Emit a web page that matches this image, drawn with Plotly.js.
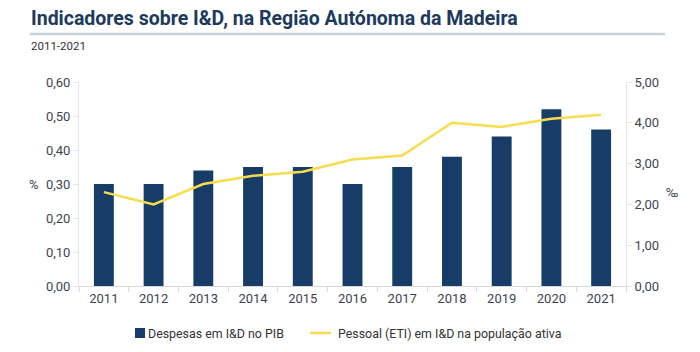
<!DOCTYPE html>
<html>
<head>
<meta charset="utf-8">
<script src="https://cdn.plot.ly/plotly-3.0.1.min.js"></script>
<style>
html,body{margin:0;padding:0;background:#fff;}
#chart{width:700px;height:352px;}
</style>
</head>
<body>
<div id="chart"></div>
<script>
const years = ['2011','2012','2013','2014','2015','2016','2017','2018','2019','2020','2021'];
const despesas = [0.30,0.30,0.34,0.35,0.35,0.30,0.35,0.38,0.44,0.52,0.46];
const pessoal = [2.3,2.0,2.5,2.7,2.8,3.1,3.2,4.0,3.9,4.1,4.2];
const leftTicks = [0,0.1,0.2,0.3,0.4,0.5,0.6];
const leftLabels = ['0,00','0,10','0,20','0,30','0,40','0,50','0,60'];
const rightTicks = [0,1,2,3,4,5];
const rightLabels = ['0,00','1,00','2,00','3,00','4,00','5,00'];
const seriesNames = ['Despesas em I&D no PIB', 'Pessoal (ETI) em I&D na população ativa'];

const barColor = '#173c68', lineColor = '#f7dc4e';
const font = 'Roboto, "Noto Sans", sans-serif';
const traces = [
  {type:'bar', x:years, y:despesas, name:seriesNames[0],
   marker:{color:barColor}, width:0.4, yaxis:'y'},
  {type:'scatter', mode:'lines', x:years, y:pessoal, name:seriesNames[1],
   line:{color:lineColor, width:2.5}, yaxis:'y2'}
];
const W = 547, H = 204, L = 79, T = 82;
const px = v => (v - L) / W;
const py = v => (T + H - v) / H;
const layout = {
  width:700, height:352,
  margin:{l:79, r:74, t:82, b:66, autoexpand:false},
  paper_bgcolor:'#fff', plot_bgcolor:'#fff',
  font:{family:font, size:13, color:'#3d4450'},
  showlegend:false,
  bargap:0.6,
  xaxis:{type:'category', showline:true, linecolor:'#d9d9d9', linewidth:1,
         ticks:'outside', ticklen:5, tickcolor:'#d9d9d9', tickson:'boundaries',
         showgrid:false, tickfont:{size:13, color:'#3d4450'}},
  yaxis:{range:[0,0.6], tickvals:leftTicks, ticktext:leftLabels, showgrid:false,
         showline:true, linecolor:'#e6e6e6', ticks:'outside', ticklen:5, tickcolor:'#e6e6e6',
         zeroline:false, tickfont:{size:13, color:'#3d4450'}},
  yaxis2:{range:[0,5], tickvals:rightTicks, ticktext:rightLabels, overlaying:'y', side:'right',
          showgrid:false, showline:true, linecolor:'#e6e6e6', ticks:'outside', ticklen:5,
          tickcolor:'#e6e6e6', zeroline:false, tickfont:{size:13, color:'#3d4450'}},
  annotations:[
    {text:'<b>Indicadores sobre I&D, na Região Autónoma da Madeira</b>', xref:'paper', yref:'paper',
     x:px(29), xanchor:'left', y:py(18), yanchor:'middle', showarrow:false,
     font:{family:'Roboto, sans-serif', size:19.5, color:'#1c3a5e'}},
    {text:'2011-2021', xref:'paper', yref:'paper', x:px(29), xanchor:'left',
     y:py(46), yanchor:'middle', showarrow:false, font:{size:11.5, color:'#333'}},
    {text:'%', xref:'paper', yref:'paper', x:px(34), xanchor:'center', y:py(184),
     yanchor:'middle', showarrow:false, font:{size:13, color:'#3d4450'}},
    {text:'‰', xref:'paper', yref:'paper', x:px(672), xanchor:'center', y:py(192),
     yanchor:'middle', showarrow:false, font:{size:13, color:'#3d4450'}},
    {text:seriesNames[0], xref:'paper', yref:'paper', x:px(146), xanchor:'left', y:py(333),
     yanchor:'middle', showarrow:false, font:{size:12.4, color:'#333'}},
    {text:seriesNames[1], xref:'paper', yref:'paper', x:px(336), xanchor:'left', y:py(333),
     yanchor:'middle', showarrow:false, font:{size:12.4, color:'#333'}}
  ],
  shapes:[
    {type:'line', xref:'paper', yref:'paper', x0:px(30), x1:px(665),
     y0:py(34), y1:py(34), line:{color:'#c8d0d8', width:2.5}},
    {type:'rect', xref:'paper', yref:'paper', x0:px(135), x1:px(145), y0:py(328), y1:py(338),
     fillcolor:barColor, line:{width:0}},
    {type:'line', xref:'paper', yref:'paper', x0:px(310), x1:px(331), y0:py(333), y1:py(333),
     line:{color:lineColor, width:2.5}}
  ]
};
Plotly.newPlot('chart', traces, layout, {displayModeBar:false, staticPlot:true});
</script>
</body>
</html>
